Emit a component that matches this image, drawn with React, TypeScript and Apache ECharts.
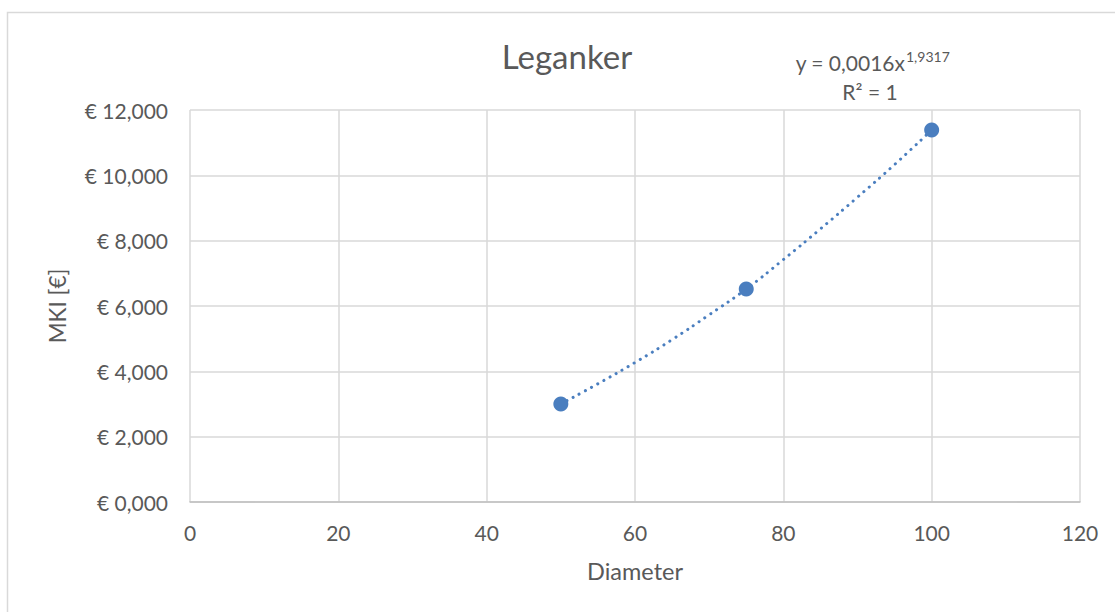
import React, { useEffect, useRef } from "react";
import * as echarts from "echarts";

const title = "Leganker";
const xName = "Diameter";
const yName = "MKI [€]";
const diameters = [50, 75, 100];
const costs = [3.0, 6.52, 11.39];
const trendX = [50, 55, 60, 65, 70, 75, 80, 85, 90, 95, 100];
const trendY = [3.0, 3.62, 4.27, 4.97, 5.73, 6.52, 7.42, 8.36, 9.33, 10.33, 11.39];
const eqMain = "y = 0,0016x";
const eqExp = "1,9317";
const eqR2 = "R² = 1";

const FONT = "Lato, 'Noto Sans', sans-serif";
const GREY = "#595959";
const BLUE = "#4a7ebf";

export default function App() {
  const ref = useRef<HTMLDivElement>(null);
  useEffect(() => {
    const chart = echarts.init(ref.current!, null, { renderer: "svg" });
    chart.setOption({
      animation: false,
      backgroundColor: "#ffffff",
      textStyle: { fontFamily: FONT },
      grid: { left: 190, right: 35, top: 110, bottom: 110 },
      xAxis: {
        type: "value",
        min: 0,
        max: 120,
        interval: 20,
        name: xName,
        nameLocation: "middle",
        nameGap: 57,
        nameTextStyle: { color: GREY, fontSize: 23.5, fontFamily: FONT },
        axisLine: { show: true, lineStyle: { color: "#bfbfbf", width: 1.5 } },
        axisTick: { show: false },
        axisLabel: { color: GREY, fontSize: 21, margin: 20, fontFamily: FONT },
        splitLine: { show: true, lineStyle: { color: "#d9d9d9", width: 1.5 } },
      },
      yAxis: {
        type: "value",
        min: 0,
        max: 12,
        interval: 2,
        name: yName,
        nameLocation: "middle",
        nameGap: 121,
        nameRotate: 90,
        nameTextStyle: { color: GREY, fontSize: 22.5, fontFamily: FONT },
        axisLine: { show: false },
        axisTick: { show: false },
        axisLabel: {
          color: GREY,
          fontSize: 21,
          margin: 22,
          fontFamily: FONT,
          formatter: (v: number) => "€ " + v.toFixed(3).replace(".", ","),
        },
        splitLine: { show: true, lineStyle: { color: "#d9d9d9", width: 1.5 } },
      },
      series: [
        {
          type: "line",
          data: trendX.map((x, i) => [x, trendY[i]]),
          smooth: true,
          showSymbol: false,
          symbol: "none",
          lineStyle: { color: BLUE, width: 3, type: [0.1, 6.9], cap: "round" },
          z: 2,
        },
        {
          type: "scatter",
          data: diameters.map((x, i) => [x, costs[i]]),
          symbol: "circle",
          symbolSize: 15,
          itemStyle: { color: BLUE, opacity: 1 },
          z: 3,
        },
      ],
      graphic: [
        {
          type: "rect",
          shape: { x: 7.5, y: 12.5, width: 1200, height: 700 },
          style: { fill: "none", stroke: "#d9d9d9", lineWidth: 1.5 },
          silent: true,
        },
        {
          type: "text",
          x: 567,
          y: 56,
          style: {
            text: title,
            fill: GREY,
            font: `33px ${FONT}`,
            textAlign: "center",
            textVerticalAlign: "middle",
          },
        },
        {
          type: "text",
          x: 905,
          y: 62,
          style: {
            text: eqMain,
            fill: GREY,
            font: `21px ${FONT}`,
            textAlign: "right",
            textVerticalAlign: "middle",
          },
        },
        {
          type: "text",
          x: 906,
          y: 56,
          style: {
            text: eqExp,
            fill: GREY,
            font: `14px ${FONT}`,
            textAlign: "left",
            textVerticalAlign: "middle",
          },
        },
        {
          type: "text",
          x: 870,
          y: 91,
          style: {
            text: eqR2,
            fill: GREY,
            font: `21px ${FONT}`,
            textAlign: "center",
            textVerticalAlign: "middle",
          },
        },
      ],
    });
    return () => chart.dispose();
  }, []);
  return (
    <div
      ref={ref}
      style={{ position: "fixed", left: 0, top: 0, width: 1115, height: 612 }}
    />
  );
}
